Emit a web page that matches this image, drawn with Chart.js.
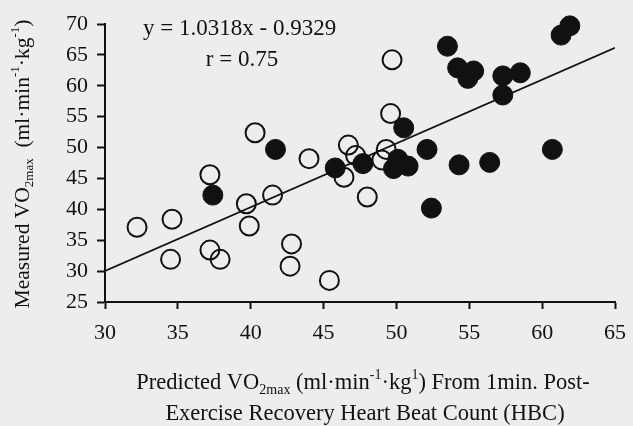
<!DOCTYPE html>
<html>
<head>
<meta charset="utf-8">
<script src="https://cdn.jsdelivr.net/npm/chart.js@4"></script>
<style>
  html, body { margin: 0; padding: 0; background: #ededed; }
  #wrap { width: 633px; height: 426px; }
</style>
</head>
<body>
<div id="wrap"><canvas id="vo2Chart" width="633" height="426"></canvas></div>
<script>
// open circles
const openX = [32.2, 34.6, 34.5, 37.2, 37.2, 37.9, 39.7, 39.9, 40.3, 41.5, 42.8, 42.7, 44.0, 45.4, 46.4, 46.7, 47.2, 48.0, 49.0, 49.3, 49.6, 49.7];
const openY = [37.1, 38.4, 31.9, 45.6, 33.4, 31.9, 40.9, 37.3, 52.4, 42.3, 34.4, 30.8, 48.2, 28.5, 45.2, 50.4, 48.7, 42.0, 48.0, 49.7, 55.5, 64.2];
// filled circles
const filledX = [37.4, 41.7, 45.8, 47.7, 49.8, 50.1, 50.8, 50.5, 52.1, 52.4, 53.5, 54.2, 54.3, 54.9, 55.3, 56.4, 57.3, 57.3, 58.5, 60.7, 61.3, 61.9];
const filledY = [42.3, 49.7, 46.7, 47.4, 46.6, 48.1, 47.0, 53.2, 49.7, 40.2, 66.4, 62.9, 47.2, 61.2, 62.4, 47.6, 61.6, 58.5, 62.1, 49.7, 68.2, 69.7];

// regression line as printed on the chart
const slope = 1.0318;
const intercept = -0.9329;
const lineX = [30, 65];

const xTicks = [30, 35, 40, 45, 50, 55, 60, 65];
const yTicks = [25, 30, 35, 40, 45, 50, 55, 60, 65, 70];

const eqText = "y = 1.0318x - 0.9329";
const rText = "r = 0.75";
const yTitle = [["Measured VO", ""], ["2max", "sub"], ["  (ml·min", ""], ["-1", "sup"], ["·kg", ""], ["-1", "sup"], [")", ""]];
const xTitle1 = [["Predicted VO", ""], ["2max", "sub"], [" (ml·min", ""], ["-1", "sup"], ["·kg", ""], ["1", "sup"], [") From 1min. Post-", ""]];
const xTitle2 = [["Exercise Recovery Heart Beat Count (HBC)", ""]];

const FONT = "'Liberation Serif', 'Times New Roman', serif";
const BG = '#ededed';

function toPts(xs, ys) {
    return xs.map((x, i) => ({ x: x, y: ys[i] }));
}

// draws text with sub/superscript pieces, centred on (cx, cy)
function drawRich(ctx, parts, cx, cy, size) {
    const small = Math.round(size * 0.62);
    let total = 0;
    parts.forEach(p => {
        ctx.font = (p[1] ? small : size) + 'px ' + FONT;
        total += ctx.measureText(p[0]).width;
    });
    let x = cx - total / 2;
    ctx.textBaseline = 'middle';
    ctx.textAlign = 'left';
    parts.forEach(p => {
        ctx.font = (p[1] ? small : size) + 'px ' + FONT;
        let dy = 0;
        if (p[1] === 'sub') dy = size * 0.32;
        if (p[1] === 'sup') dy = -size * 0.33;
        ctx.fillText(p[0], x, cy + dy);
        x += ctx.measureText(p[0]).width;
    });
}

const decor = {
    id: 'decor',
    beforeDraw(chart) {
        const ctx = chart.ctx;
        ctx.save();
        ctx.fillStyle = BG;
        ctx.fillRect(0, 0, chart.width, chart.height);
        ctx.restore();
    },
    afterDraw(chart) {
        const ctx = chart.ctx;
        ctx.save();
        ctx.fillStyle = '#111';
        ctx.font = '23px ' + FONT;
        ctx.textAlign = 'left';
        ctx.textBaseline = 'middle';
        ctx.fillText(eqText, 143, 29);
        ctx.textAlign = 'center';
        ctx.fillText(rText, 242, 60);

        drawRich(ctx, xTitle1, 363, 383, 22.5);
        drawRich(ctx, xTitle2, 365, 414, 22.5);

        ctx.translate(23, 164);
        ctx.rotate(-Math.PI / 2);
        drawRich(ctx, yTitle, 0, 0, 21.5);
        ctx.restore();
    }
};

new Chart(document.getElementById('vo2Chart'), {
    type: 'scatter',
    data: {
        datasets: [
            {
                label: 'fit',
                type: 'line',
                data: lineX.map(x => ({ x: x, y: slope * x + intercept })),
                borderColor: '#111',
                borderWidth: 1.8,
                pointRadius: 0,
                fill: false
            },
            {
                label: 'filled',
                data: toPts(filledX, filledY),
                backgroundColor: '#111',
                borderColor: '#111',
                borderWidth: 1,
                pointRadius: 10,
                clip: false
            },
            {
                label: 'open',
                data: toPts(openX, openY),
                backgroundColor: 'rgba(0,0,0,0)',
                borderColor: '#111',
                borderWidth: 2,
                pointRadius: 9.5,
                clip: false
            }
        ]
    },
    options: {
        responsive: false,
        animation: false,
        layout: { padding: { left: 0, right: 18, top: 24, bottom: 0 } },
        plugins: {
            legend: { display: false },
            tooltip: { enabled: false }
        },
        scales: {
            x: {
                type: 'linear',
                min: 30,
                max: 65,
                afterFit: s => { s.height = 124; s.paddingRight = 0; s.paddingLeft = 0; },
                afterBuildTicks: s => { s.ticks = xTicks.map(v => ({ value: v })); },
                grid: { drawOnChartArea: false, tickLength: 7, tickWidth: 2, color: '#111' },
                border: { color: '#111', width: 2 },
                ticks: { color: '#111', padding: 11, font: { family: FONT, size: 22 } }
            },
            y: {
                min: 25,
                max: 70,
                afterFit: s => { s.width = 105; },
                afterBuildTicks: s => { s.ticks = yTicks.map(v => ({ value: v })); },
                grid: { drawOnChartArea: false, tickLength: 8, tickWidth: 2, color: '#111' },
                border: { color: '#111', width: 2 },
                ticks: { color: '#111', padding: 9, font: { family: FONT, size: 22 } }
            }
        }
    },
    plugins: [decor]
});
</script>
</body>
</html>
